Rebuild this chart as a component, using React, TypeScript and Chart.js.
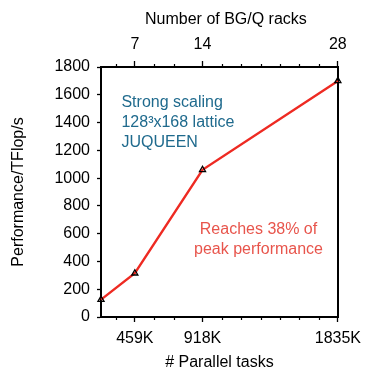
import React, { useEffect, useRef } from "react";
import { Chart, registerables } from "chart.js";

Chart.register(...registerables);

// ---- data ----
const TASKS_PER_RACK = 65536;
const taskCounts = [229376, 458752, 917504, 1835008];
const performance = [125, 315, 1060, 1700];

const xMin = 229376;
const xMax = 1835008;
const majorTaskTicks = [458752, 917504, 1835008];
const bottomTickLabels = ["459K", "918K", "1835K"];
const topTickLabels = ["7", "14", "28"];
const minorRacks = [5, 9, 11, 16, 18, 20, 22, 24, 26];

const yMin = 0;
const yMax = 1800;
const yStep = 200;

const topTitle = "Number of BG/Q racks";
const bottomTitle = "# Parallel tasks";
const yTitle = "Performance/TFlop/s";

const infoLines = ["Strong scaling", "128³x168 lattice", "JUQUEEN"];
const infoAnchor = { x: 368000, y: 1515 };
const peakLines = ["Reaches 38% of", "peak performance"];
const peakAnchor = { x: 1297000, y: 597 };

const FONT = '"Liberation Sans", Arial, Helvetica, sans-serif';
const LINE_RED = "#ee2a22";
const TEXT_BLUE = "#1f6a8d";
const TEXT_RED = "#e8554c";

const extrasPlugin = {
  id: "extras",
  afterDraw(chart: any) {
    const { ctx, scales, chartArea } = chart;
    const xs = scales.x;
    const ys = scales.y;
    ctx.save();
    // minor ticks
    ctx.strokeStyle = "#000";
    ctx.lineWidth = 1.2;
    for (const r of minorRacks) {
      const px = Math.round(xs.getPixelForValue(r * TASKS_PER_RACK)) + 0.5;
      ctx.beginPath();
      ctx.moveTo(px, chartArea.bottom);
      ctx.lineTo(px, chartArea.bottom + 3);
      ctx.moveTo(px, chartArea.top);
      ctx.lineTo(px, chartArea.top - 3);
      ctx.stroke();
    }
    // top title
    ctx.fillStyle = "#000";
    ctx.font = `16px ${FONT}`;
    ctx.textAlign = "center";
    ctx.textBaseline = "middle";
    ctx.fillText(topTitle, (chartArea.left + chartArea.right) / 2 + 6.5, 19.5);

    // annotations
    ctx.textBaseline = "alphabetic";
    ctx.font = `16px ${FONT}`;
    ctx.fillStyle = TEXT_BLUE;
    ctx.textAlign = "left";
    let ax = xs.getPixelForValue(infoAnchor.x);
    let ay = ys.getPixelForValue(infoAnchor.y);
    infoLines.forEach((t, i) => ctx.fillText(t, ax, ay + i * 20.3));

    ctx.fillStyle = TEXT_RED;
    ctx.textAlign = "center";
    ax = xs.getPixelForValue(peakAnchor.x);
    ay = ys.getPixelForValue(peakAnchor.y);
    peakLines.forEach((t, i) => ctx.fillText(t, ax, ay + i * 19.5));
    ctx.restore();
  },
};

export default function App() {
  const ref = useRef<HTMLCanvasElement | null>(null);

  useEffect(() => {
    if (!ref.current) return;
    const tickFont = { family: FONT, size: 16 };
    const chart = new Chart(ref.current, {
      type: "line",
      data: {
        datasets: [
          {
            data: taskCounts.map((x, i) => ({ x, y: performance[i] })),
            borderColor: LINE_RED,
            borderWidth: 2.4,
            pointStyle: "triangle",
            pointRadius: 3.5,
            pointBorderColor: "#000",
            pointBackgroundColor: "rgba(0,0,0,0)",
            pointBorderWidth: 1.3,
            clip: false as any,
            tension: 0,
          },
        ],
      },
      options: {
        animation: false,
        responsive: false,
        layout: { padding: 0 },
        plugins: { legend: { display: false }, tooltip: { enabled: false } },
        scales: {
          x: {
            type: "linear",
            position: "bottom",
            min: xMin,
            max: xMax,
            afterBuildTicks: (s: any) => {
              s.ticks = majorTaskTicks.map((v) => ({ value: v }));
            },
            afterFit: (s: any) => {
              s.height = 54;
            },
            ticks: {
              autoSkip: false,
              maxRotation: 0,
              color: "#000",
              font: tickFont,
              padding: 7,
              callback: (v: any) => {
                const i = majorTaskTicks.indexOf(Number(v));
                return i >= 0 ? bottomTickLabels[i] : "";
              },
            },
            grid: {
              drawOnChartArea: false,
              drawTicks: true,
              tickLength: 5,
              tickColor: "#000",
              tickWidth: 1.3,
            },
            border: { display: true, color: "#000", width: 2 },
            title: {
              display: true,
              text: bottomTitle,
              color: "#000",
              font: { family: FONT, size: 16, lineHeight: 1 },
              padding: { top: 0, bottom: 0 },
            },
          },
          x2: {
            type: "linear",
            position: "top",
            min: xMin,
            max: xMax,
            afterBuildTicks: (s: any) => {
              s.ticks = majorTaskTicks.map((v) => ({ value: v }));
            },
            afterFit: (s: any) => {
              s.height = 67;
            },
            ticks: {
              autoSkip: false,
              maxRotation: 0,
              color: "#000",
              font: tickFont,
              padding: 7,
              callback: (v: any) => {
                const i = majorTaskTicks.indexOf(Number(v));
                return i >= 0 ? topTickLabels[i] : "";
              },
            },
            grid: {
              drawOnChartArea: false,
              drawTicks: true,
              tickLength: 6,
              tickColor: "#000",
              tickWidth: 1.3,
            },
            border: { display: true, color: "#000", width: 2 },
          },
          y: {
            type: "linear",
            position: "left",
            min: yMin,
            max: yMax,
            afterFit: (s: any) => {
              s.width = 101;
            },
            ticks: {
              stepSize: yStep,
              color: "#000",
              font: tickFont,
              padding: 7,
              callback: (v: any) => String(v),
            },
            grid: {
              drawOnChartArea: false,
              drawTicks: true,
              tickLength: 4,
              tickColor: "#000",
              tickWidth: 1.3,
            },
            border: { display: true, color: "#000", width: 2 },
            title: {
              display: true,
              text: yTitle,
              color: "#000",
              font: { family: FONT, size: 16, lineHeight: 1 },
              padding: { top: 11, bottom: 0 },
            },
          },
          y2: {
            type: "linear",
            position: "right",
            min: yMin,
            max: yMax,
            afterFit: (s: any) => {
              s.width = 25;
            },
            ticks: { display: false },
            grid: { drawOnChartArea: false, drawTicks: false },
            border: { display: true, color: "#000", width: 2 },
          },
        },
      } as any,
      plugins: [extrasPlugin],
    });
    return () => chart.destroy();
  }, []);

  return (
    <div style={{ position: "fixed", left: 0, top: 0, width: 368, height: 371, background: "#fff" }}>
      <canvas ref={ref} width={368} height={371} style={{ display: "block" }} />
    </div>
  );
}
